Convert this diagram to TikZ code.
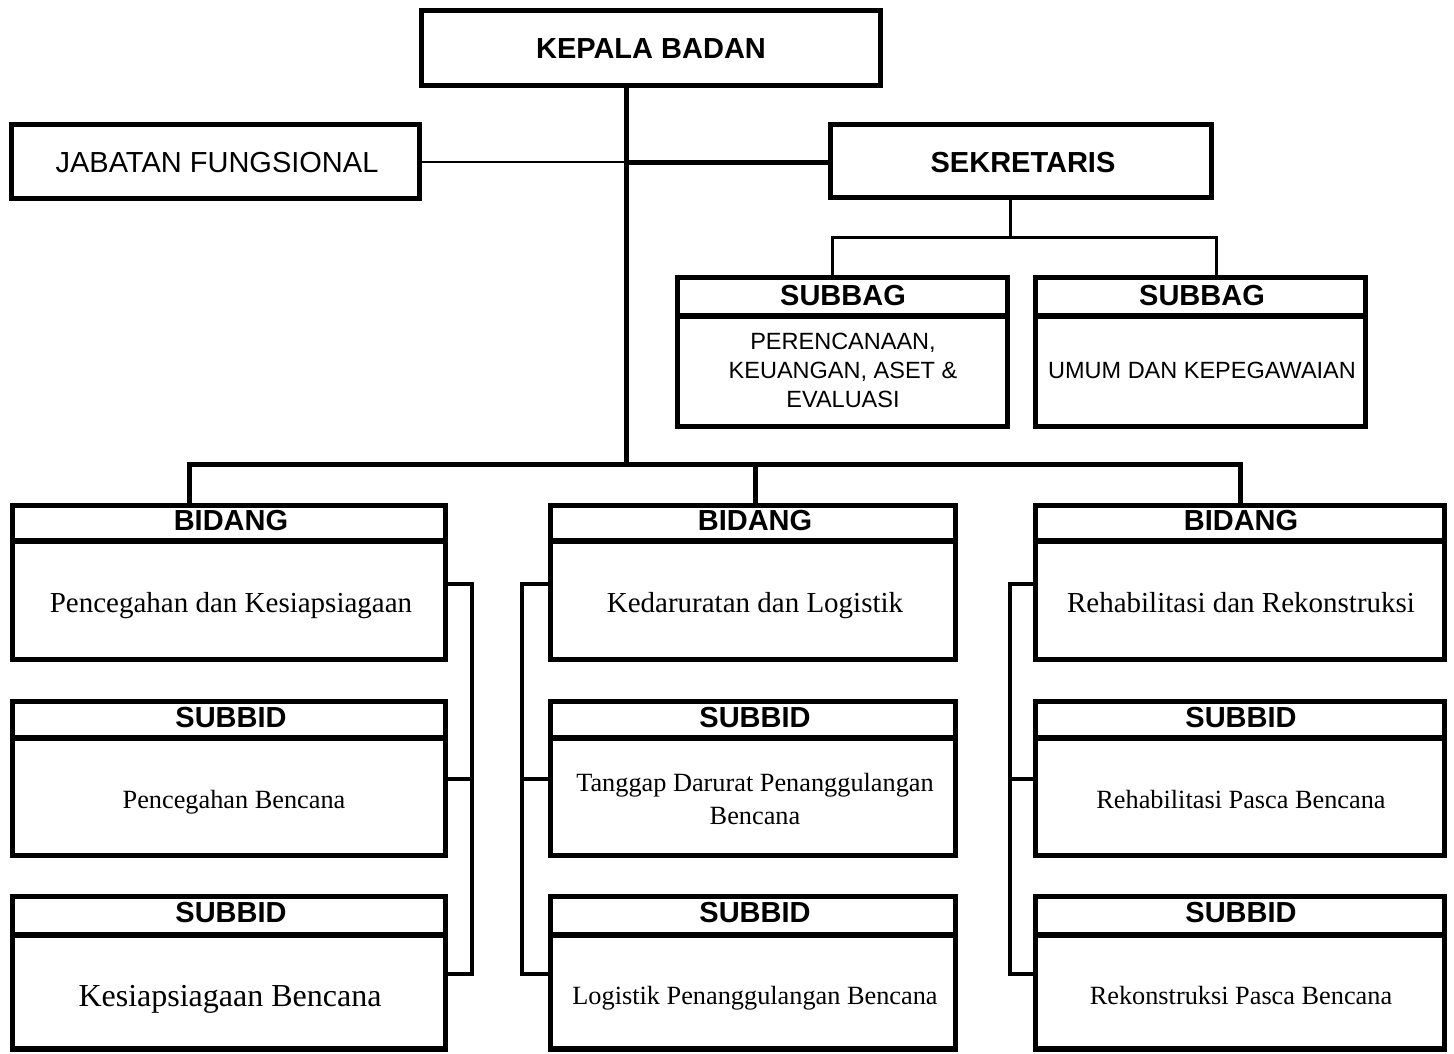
\documentclass[tikz,border=0pt]{standalone}
\usepackage{fontspec}
\setmainfont{Liberation Serif}
\newfontfamily\arialf{Liberation Sans}
\begin{document}
\begin{tikzpicture}[x=1pt,y=-1pt,
  box/.style={draw, line width=5.5pt, rectangle, inner sep=0pt},
  hdr/.style={font=\arialf\bfseries\fontsize{29}{32}\selectfont, inner sep=0pt, anchor=base},
  sanstxt/.style={font=\arialf\fontsize{29}{32}\selectfont, inner sep=0pt, anchor=base},
  subtxt/.style={font=\arialf\fontsize{23.5}{29}\selectfont, inner sep=0pt, align=center},
  bidtxt/.style={font=\fontsize{29}{33}\selectfont, inner sep=0pt, anchor=base},
  sbdtxt/.style={font=\fontsize{26.3}{33}\selectfont, inner sep=0pt, anchor=base},
  divider/.style={line width=5.5pt},
  mainline/.style={line width=5pt},
  thinline/.style={line width=3pt},
  bracket/.style={line width=3.3pt},
  hairline/.style={line width=1.5pt}]
\useasboundingbox (0,0) rectangle (1454,1053);

% ---- top boxes
\node[box, minimum width=459pt, minimum height=75pt] (kb) at (651,48) {};
\node[hdr] (kbt) at (651,58) {KEPALA BADAN};
\node[box, minimum width=408pt, minimum height=74pt] (jf) at (215.5,161.5) {};
\node[sanstxt] (jft) at (217,172.5) {JABATAN FUNGSIONAL};
\node[box, minimum width=381pt, minimum height=73pt] (sek) at (1021,161) {};
\node[hdr] (sekt) at (1023,172) {SEKRETARIS};

% ---- subbag boxes
\node[box, minimum width=330pt, minimum height=149pt] (sbl) at (842.5,352) {};
\draw[divider] (sbl.west |- 0,316) coordinate (sbld1) -- (sbl.east |- 0,316) coordinate (sbld2);
\node[hdr] (sblh) at (843,305) {SUBBAG};
\node[subtxt] (sblt) at (843,370) {PERENCANAAN,\\KEUANGAN, ASET \&\\EVALUASI};

\node[box, minimum width=330pt, minimum height=149pt] (sbr) at (1200.5,352) {};
\draw[divider] (sbr.west |- 0,316) coordinate (sbrd1) -- (sbr.east |- 0,316) coordinate (sbrd2);
\node[hdr] (sbrh) at (1202,305) {SUBBAG};
\node[subtxt, anchor=base] (sbrt) at (1202,378.5) {UMUM DAN KEPEGAWAIAN};

% ---- bidang row
\node[box, minimum width=433pt, minimum height=154pt] (bl) at (229,582.5) {};
\node[box, minimum width=405pt, minimum height=154pt] (bm) at (753,582.5) {};
\node[box, minimum width=409pt, minimum height=154pt] (br) at (1240,582.5) {};
\foreach \n in {bl,bm,br} \draw[divider] (\n.west |- 0,541) -- (\n.east |- 0,541);
\node[hdr] (blh) at (231,530) {BIDANG};
\node[hdr] (bmh) at (755,530) {BIDANG};
\node[hdr] (brh) at (1241,530) {BIDANG};
\node[bidtxt] (blt) at (231,612) {Pencegahan dan Kesiapsiagaan};
\node[bidtxt] (bmt) at (755,612) {Kedaruratan dan Logistik};
\node[bidtxt] (brt) at (1241,612) {Rehabilitasi dan Rekonstruksi};

% ---- subbid row 2
\node[box, minimum width=433pt, minimum height=154pt] (s2l) at (229,778.5) {};
\node[box, minimum width=405pt, minimum height=154pt] (s2m) at (753,778.5) {};
\node[box, minimum width=409pt, minimum height=154pt] (s2r) at (1240,778.5) {};
\foreach \n in {s2l,s2m,s2r} \draw[divider] (\n.west |- 0,738) -- (\n.east |- 0,738);
\node[hdr] (s2lh) at (231,727) {SUBBID};
\node[hdr] (s2mh) at (755,727) {SUBBID};
\node[hdr] (s2rh) at (1241,727) {SUBBID};
\node[sbdtxt] (s2lt) at (234,808) {Pencegahan Bencana};
\node[sbdtxt, align=center, anchor=center] (s2mt) at (755,799) {Tanggap Darurat Penanggulangan\\Bencana};
\node[sbdtxt] (s2rt) at (1241,808) {Rehabilitasi Pasca Bencana};

% ---- subbid row 3
\node[box, minimum width=433pt, minimum height=152.5pt] (s3l) at (229,972.75) {};
\node[box, minimum width=405pt, minimum height=152.5pt] (s3m) at (753,972.75) {};
\node[box, minimum width=409pt, minimum height=152.5pt] (s3r) at (1240,972.75) {};
\foreach \n in {s3l,s3m,s3r} \draw[divider] (\n.west |- 0,935) -- (\n.east |- 0,935);
\node[hdr] (s3lh) at (231,922) {SUBBID};
\node[hdr] (s3mh) at (755,922) {SUBBID};
\node[hdr] (s3rh) at (1241,922) {SUBBID};
\node[font=\fontsize{32}{36}\selectfont, inner sep=0pt, anchor=base] (s3lt) at (230,1006) {Kesiapsiagaan Bencana};
\node[sbdtxt] (s3mt) at (755,1004) {Logistik Penanggulangan Bencana};
\node[sbdtxt] (s3rt) at (1241,1004) {Rekonstruksi Pasca Bencana};

% ---- connectors
\coordinate (trunk) at (626,464);
\coordinate (jn) at (626,162);
\draw[mainline] (kb.south -| trunk) -- (trunk);
\draw[hairline] (jf.east |- jn) -- (jn);
\draw[mainline] (jn) -- (sek.west |- jn);

\coordinate (sekj) at (1010,237);
\coordinate (sbja) at (832,237);
\coordinate (sbjb) at (1216,237);
\draw[thinline] (sek.south -| sekj) -- (sekj);
\draw[thinline] (sbl.north -| sbja) -- (sbja) -- (sbjb) -- (sbr.north -| sbjb);

\coordinate (hl) at (189,464);
\coordinate (hm) at (755,464);
\coordinate (hr) at (1240,464);
\draw[mainline] (bl.north -| hl) -- (hl) -- (hr) -- (br.north -| hr);
\draw[mainline] (hm) -- (bm.north -| hm);

% brackets
\coordinate (bxl) at (472,0);
\coordinate (bxm) at (522,0);
\coordinate (bxr) at (1010,0);
\draw[bracket] (bl.east |- 0,584) -- (bxl |- 0,584) -- (bxl |- 0,974) -- (s3l.east |- 0,974);
\draw[bracket] (s2l.east |- 0,779) -- (bxl |- 0,779);
\draw[bracket] (bm.west |- 0,584) -- (bxm |- 0,584) -- (bxm |- 0,974) -- (s3m.west |- 0,974);
\draw[bracket] (s2m.west |- 0,779) -- (bxm |- 0,779);
\draw[bracket] (br.west |- 0,584) -- (bxr |- 0,584) -- (bxr |- 0,974) -- (s3r.west |- 0,974);
\draw[bracket] (s2r.west |- 0,779) -- (bxr |- 0,779);
\end{tikzpicture}
\end{document}
